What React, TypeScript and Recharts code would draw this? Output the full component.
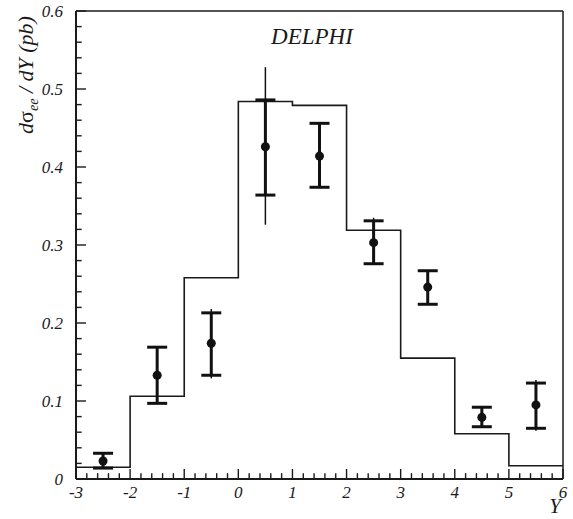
import React from 'react';
import { ComposedChart, Line, Scatter, ErrorBar, XAxis, YAxis, ReferenceLine } from 'recharts';

// histogram (theory): bin edges and heights
const binEdges = [-3, -2, -1, 0, 1, 2, 3, 4, 5, 6];
const binHeights = [0.015, 0.106, 0.258, 0.484, 0.479, 0.319, 0.155, 0.058, 0.017];

// data points
const pointY = [-2.5, -1.5, -0.5, 0.5, 1.5, 2.5, 3.5, 4.5, 5.5];
const pointVal = [0.023, 0.133, 0.174, 0.426, 0.414, 0.303, 0.246, 0.079, 0.095];
const statLow = [0.014, 0.097, 0.133, 0.364, 0.374, 0.276, 0.224, 0.067, 0.065];
const statHigh = [0.033, 0.169, 0.213, 0.486, 0.456, 0.331, 0.267, 0.092, 0.123];
const totLow = [0.014, 0.097, 0.129, 0.326, 0.374, 0.276, 0.224, 0.067, 0.062];
const totHigh = [0.033, 0.169, 0.218, 0.528, 0.456, 0.335, 0.267, 0.092, 0.127];

// axis ticks
const xMajor = [-3, -2, -1, 0, 1, 2, 3, 4, 5, 6];
const yMajor = [0, 0.1, 0.2, 0.3, 0.4, 0.5, 0.6];
const xMinor = Array.from({ length: 46 }, (_, i) => Math.round((-3 + i * 0.2) * 10) / 10);
const yMinor = Array.from({ length: 31 }, (_, i) => Math.round(i * 2) / 100);

const histData = binEdges.map((x, i) => ({ x, h: binHeights[Math.min(i, binHeights.length - 1)] }));
const pointData = pointY.map((x, i) => ({
  x,
  v: pointVal[i],
  stat: [pointVal[i] - statLow[i], statHigh[i] - pointVal[i]],
  tot: [pointVal[i] - totLow[i], totHigh[i] - pointVal[i]],
}));

const W = 573;
const H = 519;
const margin = { top: 11, right: 10, bottom: 10, left: 16 };
const X_AXIS_H = 30;
const Y_AXIS_W = 60;
const AXIS_BOTTOM = H - margin.bottom - X_AXIS_H;
const AXIS_LEFT = margin.left + Y_AXIS_W;

// inward tick lengths, in axis units (~10px major, ~6px minor)
const X_TICK_MAJOR = 0.0128;
const X_TICK_MINOR = 0.0075;
const Y_TICK_MAJOR = 0.185;
const Y_TICK_MINOR = 0.105;

const ink = '#1a1a1a';
const FONT = 'Liberation Serif, DejaVu Serif, serif';

const isInt = (v: number) => Math.abs(v - Math.round(v)) < 1e-6;

const renderXLabel = (props: any) => {
  const { x, payload } = props;
  return (
    <text x={x} y={AXIS_BOTTOM + 19} textAnchor="middle" fontSize={17} fill={ink} fontFamily={FONT} fontStyle="italic">
      {payload.value}
    </text>
  );
};

const renderYLabel = (props: any) => {
  const { y, payload } = props;
  const v = payload.value;
  return (
    <text x={AXIS_LEFT - 13} y={y + 6} textAnchor="end" fontSize={17} fill={ink} fontFamily={FONT} fontStyle="italic">
      {v === 0 ? '0' : v.toFixed(1)}
    </text>
  );
};

export default function App() {
  return (
    <div style={{ position: 'absolute', left: 0, top: 0, background: '#fff' }}>
      <ComposedChart width={W} height={H} margin={margin}>
        <XAxis
          dataKey="x"
          type="number"
          domain={[-3, 6]}
          ticks={xMajor}
          interval={0}
          tickSize={0}
          tickMargin={0}
          tick={renderXLabel}
          tickLine={false}
          axisLine={{ stroke: ink, strokeWidth: 2 }}
          height={X_AXIS_H}
          allowDataOverflow
        />
        <YAxis
          type="number"
          domain={[0, 0.6]}
          ticks={yMajor}
          interval={0}
          tickSize={0}
          tickMargin={0}
          tick={renderYLabel}
          tickLine={false}
          axisLine={{ stroke: ink, strokeWidth: 2 }}
          width={Y_AXIS_W}
          allowDataOverflow
        />
        {xMinor.map((t) => (
          <ReferenceLine
            key={`xt${t}`}
            segment={[{ x: t, y: 0 }, { x: t, y: isInt(t) ? X_TICK_MAJOR : X_TICK_MINOR }]}
            stroke={ink}
            strokeWidth={1.4}
          />
        ))}
        {yMinor.map((t) => (
          <ReferenceLine
            key={`yt${t}`}
            segment={[{ x: -3, y: t }, { x: -3 + (isInt(t * 10) ? Y_TICK_MAJOR : Y_TICK_MINOR), y: t }]}
            stroke={ink}
            strokeWidth={1.4}
          />
        ))}
        <ReferenceLine y={0.6} stroke={ink} strokeWidth={1.5} />
        <ReferenceLine x={6} stroke={ink} strokeWidth={1.5} />
        <Line
          data={histData}
          dataKey="h"
          type="stepAfter"
          stroke={ink}
          strokeWidth={1.6}
          dot={false}
          activeDot={false}
          isAnimationActive={false}
        />
        <Scatter data={pointData} dataKey="v" fill="#111" isAnimationActive={false}>
          <ErrorBar dataKey="tot" direction="y" width={0} stroke="#111" strokeWidth={1.5} isAnimationActive={false} />
          <ErrorBar dataKey="stat" direction="y" width={10} stroke="#111" strokeWidth={3} isAnimationActive={false} />
        </Scatter>
        <text x={312} y={44} textAnchor="middle" fontSize={23} fill={ink} fontFamily={FONT} fontStyle="italic">
          DELPHI
        </text>
        <text x={555} y={513} textAnchor="middle" fontSize={21} fill={ink} fontFamily={FONT} fontStyle="italic">
          Y
        </text>
        <text
          transform="translate(33,75) rotate(-90)"
          textAnchor="middle"
          fontSize={22}
          fill={ink}
          fontFamily={FONT}
          fontStyle="italic"
        >
          d<tspan fontStyle="normal">σ</tspan>
          <tspan fontSize={14} dy={5}>ee</tspan>
          <tspan dy={-5}> / dY (pb)</tspan>
        </text>
      </ComposedChart>
    </div>
  );
}
